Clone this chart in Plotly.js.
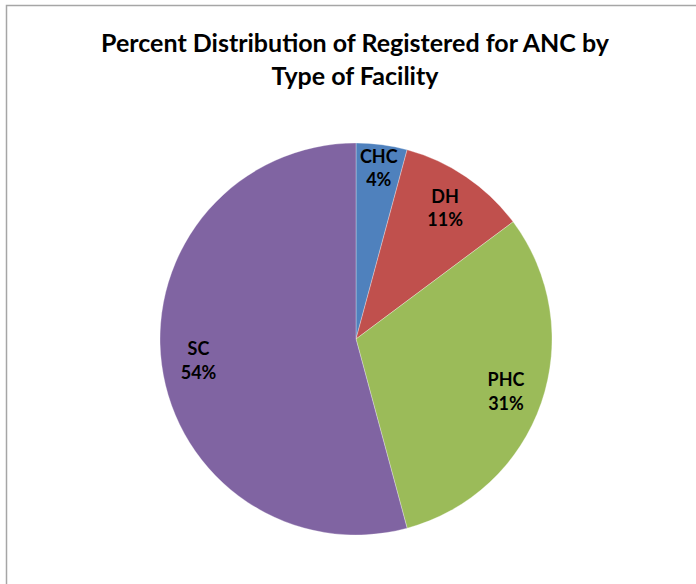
<!DOCTYPE html>
<html>
<head>
<meta charset="utf-8">
<script src="https://cdn.plot.ly/plotly-3.0.1.min.js"></script>
<style>
html,body{margin:0;padding:0;background:#fff;}
#chart{width:696px;height:584px;}
</style>
</head>
<body>
<div id="chart"></div>
<script>
const categories = ["CHC", "DH", "PHC", "SC"];
const values = [4.2, 10.6, 31.0, 54.2];
const colors = ["#4F81BD", "#C0504D", "#9BBB59", "#8064A2"];
const titleText = "Percent Distribution of Registered for ANC by<br>Type of Facility";

const W = 696, H = 584;
const cx = 356, cy = 339, R = 196;
const dom = {x: [(cx - R) / W, (cx + R) / W], y: [1 - (cy + R) / H, 1 - (cy - R) / H]};
const labelFont = {family: "Lato, 'Open Sans', sans-serif", size: 18, color: "#000000", weight: "bold"};

const pie = {
  type: "pie",
  labels: categories,
  values: values,
  sort: false,
  direction: "clockwise",
  rotation: 0,
  marker: {colors: colors, line: {color: "rgba(255,255,255,0.6)", width: 0.5}},
  textinfo: "none",
  hoverinfo: "label+percent",
  showlegend: false,
  domain: dom
};

// transparent ring carrying the labels, so they sit near the outer part of each slice
const labelsRing = {
  type: "pie",
  labels: categories,
  values: values,
  sort: false,
  direction: "clockwise",
  rotation: 0,
  hole: 0.62,
  marker: {colors: categories.map(() => "rgba(0,0,0,0)"), line: {width: 0}},
  textposition: "inside",
  insidetextorientation: "horizontal",
  texttemplate: "%{label}<br>%{percent:.0%}",
  textfont: labelFont,
  hoverinfo: "skip",
  showlegend: false,
  domain: dom
};

const layout = {
  width: W, height: H,
  margin: {l: 0, r: 0, t: 0, b: 0},
  paper_bgcolor: "#ffffff",
  plot_bgcolor: "#ffffff",
  uniformtext: {mode: "show", minsize: 18},
  title: {
    text: titleText,
    font: {family: "Lato, 'Open Sans', sans-serif", size: 25, color: "#000000", weight: "bold"},
    x: 355 / W, xanchor: "center", xref: "container",
    y: 1 - 52 / H, yanchor: "top", yref: "container"
  },
  shapes: [{
    type: "rect", xref: "paper", yref: "paper",
    x0: 6.5 / W, x1: 1.2, y0: -0.2, y1: 1 - 5.5 / H,
    line: {color: "#a6a6a6", width: 1.5}, fillcolor: "rgba(0,0,0,0)", layer: "below"
  }]
};

Plotly.newPlot("chart", [pie, labelsRing], layout, {displayModeBar: false, staticPlot: true});
</script>
</body>
</html>
